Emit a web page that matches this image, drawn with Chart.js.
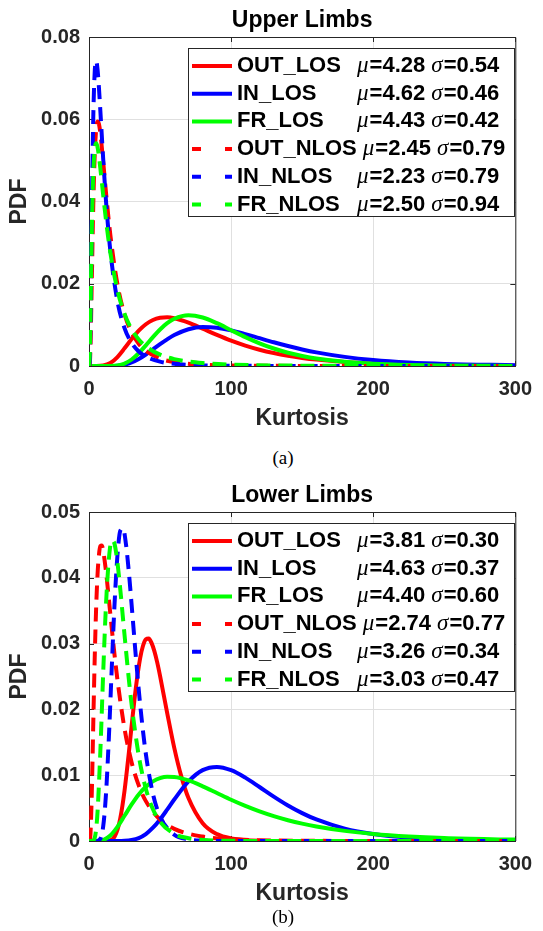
<!DOCTYPE html>
<html>
<head>
<meta charset="utf-8">
<script src="https://cdn.jsdelivr.net/npm/chart.js@4.4.1/dist/chart.umd.min.js"></script>
<style>
  body { margin: 0; background: #fff; }
  .page { position: relative; width: 543px; height: 931px; }
  .panel { position: absolute; left: 0; width: 543px; height: 432px; }
  .cap {
    position: absolute; left: 283px; transform: translate(-50%, -50%);
    font: 19px "Liberation Serif", "Times New Roman", serif; color: #000;
  }
</style>
</head>
<body>
<div class="page">
  <div class="panel" style="top:0"><canvas id="upperChart" width="543" height="432"></canvas></div>
  <div class="cap" style="top:458px">(a)</div>
  <div class="panel" style="top:475px"><canvas id="lowerChart" width="543" height="432"></canvas></div>
  <div class="cap" style="top:917px">(b)</div>
</div>
<script>
const seriesNames = ['OUT_LOS', 'IN_LOS', 'FR_LOS', 'OUT_NLOS', 'IN_NLOS', 'FR_NLOS'];

// upper limbs
const upperMu = [4.28, 4.62, 4.43, 2.45, 2.23, 2.50];
const upperSigma = [0.54, 0.46, 0.42, 0.79, 0.79, 0.94];
const upperLosX = [0, 5, 10, 15, 20, 25, 30, 35, 40, 45, 50, 55, 60, 70, 80, 90, 100, 110, 120, 130, 140, 150, 160, 180, 200, 225, 250, 300];
const upperOutLos = [0, 0, 0.0001, 0.00071, 0.00218, 0.00429, 0.00655, 0.00858, 0.01015, 0.01118, 0.01172, 0.01183, 0.01161, 0.01054, 0.00907, 0.00756, 0.00616, 0.00496, 0.00396, 0.00315, 0.00249, 0.00197, 0.00156, 0.00098, 0.00062, 0.00036, 0.00021, 0.00008];
const upperInLos = [0, 0, 0, 0.00001, 0.00009, 0.00034, 0.00086, 0.0017, 0.0028, 0.00404, 0.00531, 0.00649, 0.00752, 0.00894, 0.00948, 0.00931, 0.00867, 0.00776, 0.00676, 0.00577, 0.00485, 0.00403, 0.00332, 0.00222, 0.00146, 0.00086, 0.00051, 0.00018];
const upperFrLos = [0, 0, 0, 0.00001, 0.00014, 0.0006, 0.00158, 0.0031, 0.00501, 0.00702, 0.00888, 0.01041, 0.0115, 0.01236, 0.0118, 0.01041, 0.00871, 0.00702, 0.00551, 0.00425, 0.00323, 0.00244, 0.00182, 0.00101, 0.00056, 0.00027, 0.00013, 0.00003];
const upperNlosX = [0, 0.5, 1, 2, 3, 4, 5, 6, 7, 8, 10, 12, 15, 20, 25, 30, 35, 40, 50, 60, 80, 100, 150, 200, 300];
const upperOutNlos = [0, 0.00037, 0.00412, 0.0213, 0.03897, 0.051, 0.05734, 0.05948, 0.05885, 0.05655, 0.04963, 0.04204, 0.03192, 0.01989, 0.01258, 0.00815, 0.00542, 0.00369, 0.00182, 0.00097, 0.00032, 0.00012, 0.00002, 0, 0];
const upperInNlos = [0, 0.00108, 0.0094, 0.03805, 0.06037, 0.07137, 0.07419, 0.07217, 0.06763, 0.06199, 0.05029, 0.03995, 0.02803, 0.01579, 0.00923, 0.00561, 0.00353, 0.0023, 0.00105, 0.00052, 0.00015, 0.00006, 0.00001, 0, 0];
const upperFrNlos = [0, 0.00265, 0.01236, 0.03345, 0.04656, 0.05259, 0.05419, 0.05326, 0.05096, 0.048, 0.04152, 0.03536, 0.02761, 0.01847, 0.01267, 0.00894, 0.00646, 0.00477, 0.00275, 0.00168, 0.00072, 0.00035, 0.00008, 0.00003, 0];

// lower limbs
const lowerMu = [3.81, 4.63, 4.40, 2.74, 3.26, 3.03];
const lowerSigma = [0.30, 0.37, 0.60, 0.77, 0.34, 0.47];
const lowerOutLosX = [0, 10, 15, 18, 20, 22, 25, 28, 30, 33, 36, 38, 40, 42, 44, 46, 48, 50, 55, 60, 65, 70, 80, 90, 100, 120, 150, 300];
const lowerOutLos = [0, 0, 0.0001, 0.00067, 0.00167, 0.00342, 0.00764, 0.01336, 0.01752, 0.02334, 0.02778, 0.02967, 0.03065, 0.03076, 0.03011, 0.02885, 0.02714, 0.0251, 0.01948, 0.01415, 0.00978, 0.00653, 0.0027, 0.00105, 0.0004, 0.00005, 0, 0];
const lowerLosX = [0, 5, 10, 15, 20, 25, 30, 35, 40, 45, 50, 55, 60, 70, 80, 90, 100, 110, 120, 130, 140, 150, 160, 180, 200, 225, 250, 300];
const lowerInLos = [0, 0, 0, 0, 0, 0.00003, 0.00015, 0.00045, 0.00106, 0.00202, 0.00328, 0.00476, 0.0063, 0.00905, 0.01077, 0.01126, 0.01076, 0.00963, 0.00821, 0.00675, 0.0054, 0.00424, 0.00327, 0.00188, 0.00106, 0.0005, 0.00024, 0.00005];
const lowerFrLos = [0, 0, 0.00015, 0.00083, 0.00215, 0.00383, 0.00555, 0.00707, 0.00824, 0.00906, 0.00955, 0.00976, 0.00973, 0.0092, 0.00831, 0.00729, 0.00627, 0.00533, 0.0045, 0.00378, 0.00316, 0.00264, 0.00221, 0.00154, 0.00108, 0.0007, 0.00046, 0.00021];
const lowerOutNlosX = [0, 0.5, 1, 2, 3, 4, 5, 6, 7, 8, 9, 10, 12, 14, 16, 18, 20, 25, 30, 35, 40, 50, 60, 80, 100, 150, 200, 300];
const lowerOutNlos = [0, 0.00005, 0.00092, 0.00757, 0.01781, 0.02762, 0.03526, 0.04046, 0.04349, 0.04482, 0.0449, 0.04409, 0.04087, 0.03669, 0.03235, 0.02824, 0.02452, 0.01708, 0.01194, 0.00845, 0.00606, 0.00325, 0.00184, 0.00067, 0.00028, 0.00004, 0.00001, 0];
const lowerInNlosX = [0, 5, 8, 10, 12, 14, 16, 18, 20, 22, 24, 26, 28, 30, 33, 36, 40, 45, 50, 60, 70, 80, 100, 300];
const lowerInNlos = [0, 0, 0.00035, 0.00223, 0.00727, 0.01582, 0.02625, 0.03611, 0.04337, 0.04714, 0.04749, 0.04513, 0.04097, 0.03588, 0.02792, 0.02073, 0.01324, 0.00716, 0.00373, 0.00096, 0.00025, 0.00006, 0, 0];
const lowerFrNlosX = [0, 2, 4, 5, 6, 8, 10, 12, 14, 16, 18, 20, 22, 25, 28, 30, 35, 40, 45, 50, 60, 70, 80, 100, 150, 300];
const lowerFrNlos = [0, 0, 0.00047, 0.00176, 0.0044, 0.01372, 0.02563, 0.0361, 0.0429, 0.04566, 0.04512, 0.04233, 0.03826, 0.03132, 0.02465, 0.02071, 0.01299, 0.00794, 0.00482, 0.00292, 0.00109, 0.00042, 0.00017, 0.00003, 0, 0];

const upperSeries = [
  [upperLosX, upperOutLos], [upperLosX, upperInLos], [upperLosX, upperFrLos],
  [upperNlosX, upperOutNlos], [upperNlosX, upperInNlos], [upperNlosX, upperFrNlos]
];
const lowerSeries = [
  [lowerOutLosX, lowerOutLos], [lowerLosX, lowerInLos], [lowerLosX, lowerFrLos],
  [lowerOutNlosX, lowerOutNlos], [lowerInNlosX, lowerInNlos], [lowerFrNlosX, lowerFrNlos]
];

const lineColors = ['#ff0000', '#0000ff', '#00ff00', '#ff0000', '#0000ff', '#00ff00'];
const AXIS_COLOR = '#262626';
const GRID_COLOR = '#e0e0e0';
const SANS = '"Liberation Sans", Arial, Helvetica, sans-serif';
const SERIF = '"Liberation Serif", "Times New Roman", serif';

Chart.defaults.font.family = SANS;

// box round the axes plus MATLAB style inward ticks
const framePlugin = {
  id: 'frame',
  beforeDatasetsDraw(chart) {
    const { ctx, chartArea: a, scales } = chart;
    ctx.save();
    ctx.strokeStyle = AXIS_COLOR;
    ctx.lineWidth = 1;
    ctx.beginPath();
    ctx.moveTo(a.left, a.top + 0.5);
    ctx.lineTo(a.right + 0.5, a.top + 0.5);
    ctx.lineTo(a.right + 0.5, a.bottom);
    scales.x.ticks.forEach(t => {
      const px = Math.round(scales.x.getPixelForValue(t.value)) + 0.5;
      ctx.moveTo(px, a.top); ctx.lineTo(px, a.top + 5);
      ctx.moveTo(px, a.bottom); ctx.lineTo(px, a.bottom - 5);
    });
    scales.y.ticks.forEach(t => {
      const py = Math.round(scales.y.getPixelForValue(t.value)) + 0.5;
      ctx.moveTo(a.left, py); ctx.lineTo(a.left + 5, py);
      ctx.moveTo(a.right, py); ctx.lineTo(a.right - 5, py);
    });
    ctx.stroke();
    ctx.restore();
  }
};

// two column legend with italic mu / sigma
const pdfLegendPlugin = {
  id: 'pdfLegend',
  afterDatasetsDraw(chart, args, opts) {
    const { ctx } = chart;
    ctx.save();
    ctx.fillStyle = '#fff';
    ctx.fillRect(188, 48, 326, 168);
    ctx.strokeStyle = AXIS_COLOR;
    ctx.lineWidth = 1;
    ctx.strokeRect(188.5, 48.5, 326, 168);
    ctx.textBaseline = 'middle';
    ctx.textAlign = 'left';

    const part = (text, x, y, font) => {
      ctx.font = font;
      ctx.fillText(text, x, y);
      return x + ctx.measureText(text).width;
    };

    chart.data.datasets.forEach((ds, i) => {
      const y = 66 + i * 27.7;
      ctx.strokeStyle = ds.borderColor;
      ctx.lineWidth = 4;
      ctx.setLineDash(ds.borderDash.length ? [9, 24] : []);
      ctx.beginPath();
      ctx.moveTo(192, y);
      ctx.lineTo(232, y);
      ctx.stroke();
      ctx.setLineDash([]);

      ctx.fillStyle = '#000';
      const bold = 'bold 22px ' + SANS;
      const ital = 'italic 23px ' + SERIF;
      let x = part(ds.label, 237, y, bold);
      x = Math.max(357, x + 6);
      x = part('\u03bc', x, y, ital);
      x = part('=' + opts.mu[i].toFixed(2) + ' ', x + 1, y, bold);
      x = part('\u03c3', x, y, ital);
      part('=' + opts.sigma[i].toFixed(2), x + 1, y, bold);
    });
    ctx.restore();
  }
};

function makeChart(canvasId, title, yMax, yStep, series, mu, sigma) {
  const datasets = series.map(([xs, ys], i) => ({
    label: seriesNames[i],
    data: xs.map((x, k) => ({ x, y: ys[k] })),
    borderColor: lineColors[i],
    borderWidth: 4,
    borderDash: i >= 3 ? [14, 8] : [],
    pointRadius: 0,
    cubicInterpolationMode: 'monotone',
    fill: false,
    order: 6 - i
  }));

  return new Chart(document.getElementById(canvasId), {
    type: 'line',
    data: { datasets },
    plugins: [framePlugin, pdfLegendPlugin],
    options: {
      responsive: false,
      animation: false,
      layout: { padding: { left: 0, right: 19, top: 0, bottom: 0 } },
      plugins: {
        legend: { display: false },
        tooltip: { enabled: false },
        title: {
          display: true,
          text: title,
          color: '#000',
          fullSize: false,
          font: { size: 23, weight: 'bold' },
          padding: { top: 7, bottom: 2.4 }
        },
        pdfLegend: { mu, sigma }
      },
      scales: {
        x: {
          type: 'linear',
          min: 0,
          max: 300,
          ticks: {
            stepSize: 100,
            maxRotation: 0,
            padding: 11,
            color: AXIS_COLOR,
            font: { size: 20, weight: 'bold' }
          },
          grid: { color: GRID_COLOR, drawTicks: false },
          border: { display: true, color: AXIS_COLOR },
          title: {
            display: true,
            text: 'Kurtosis',
            color: AXIS_COLOR,
            font: { size: 23, weight: 'bold' },
            padding: 0
          },
          afterFit(scale) { scale.height = 66; }
        },
        y: {
          min: 0,
          max: yMax,
          ticks: {
            stepSize: yStep,
            padding: 9,
            color: AXIS_COLOR,
            font: { size: 20, weight: 'bold' }
          },
          grid: { color: GRID_COLOR, drawTicks: false },
          border: { display: true, color: AXIS_COLOR },
          title: {
            display: true,
            text: 'PDF',
            color: AXIS_COLOR,
            font: { size: 23, weight: 'bold' },
            padding: { top: 6, bottom: 0 }
          },
          afterFit(scale) { scale.width = 89; }
        }
      }
    }
  });
}

makeChart('upperChart', 'Upper Limbs', 0.08, 0.02, upperSeries, upperMu, upperSigma);
makeChart('lowerChart', 'Lower Limbs', 0.05, 0.01, lowerSeries, lowerMu, lowerSigma);
</script>
</body>
</html>
